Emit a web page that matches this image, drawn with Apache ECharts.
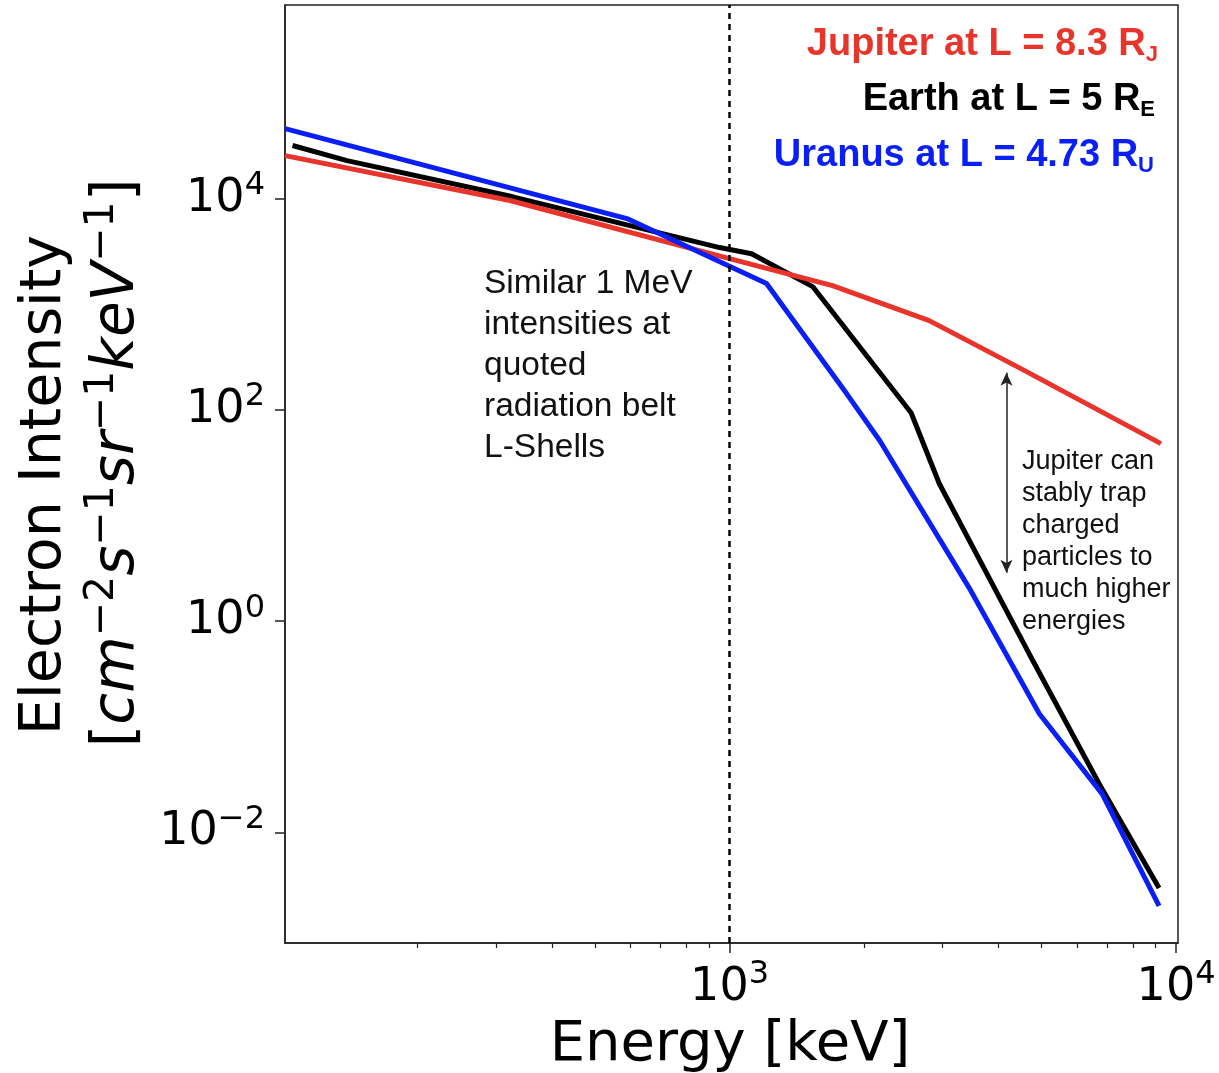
<!DOCTYPE html>
<html>
<head>
<meta charset="utf-8">
<script src="https://cdn.jsdelivr.net/npm/echarts@6/dist/echarts.min.js"></script>
<style>
html, body { margin: 0; padding: 0; background: #fff; }
#container { width: 1219px; height: 1073px; }
</style>
</head>
<body>
<div id="container"></div>
<script>
// energy in keV, intensity in cm^-2 s^-1 sr^-1 keV^-1
var jupiterEnergy = [101, 322, 1000, 1700, 2800, 4460, 9250];
var jupiterFlux = [25500, 9600, 2700, 1500, 700, 250, 48];
var earthEnergy = [105, 139, 327, 950, 1120, 1535, 2550, 2950, 4690, 6730, 9160];
var earthFlux = [31800, 22900, 10400, 3440, 3010, 1470, 94, 20, 0.49, 0.0288, 0.00299];
var uranusEnergy = [101, 589, 1210, 1830, 2170, 3440, 4940, 6830, 9160];
var uranusFlux = [46000, 6470, 1570, 142, 51, 2.07, 0.133, 0.0232, 0.00202];

var xMajorTicks = [1000, 10000];
var xMinorTicks = [200, 300, 400, 500, 600, 700, 800, 900, 2000, 3000, 4000, 5000, 6000, 7000, 8000, 9000];
var yMajorTicks = [0.01, 1, 100, 10000];
var xRange = [101, 10100];
var yRange = [0.0009, 680000];

var markerEnergy = 1000;          // dotted 1 MeV line
var arrowEnergy = 4170;           // double arrow
var arrowFlux = [225, 2.87];

var lg = Math.log10;

function pairs(xs, ys) {
	return xs.map(function (x, i) { return [lg(x), lg(ys[i])]; });
}

function powLabel(v) {
	var e = Math.round(v);
	return '{b|10}{s|' + (e < 0 ? '\u2212' + (-e) : e) + '}';
}

var tickRich = {
	b: { fontFamily: 'DejaVu Sans', fontSize: 46, color: '#000', lineHeight: 58 },
	s: { fontFamily: 'DejaVu Sans', fontSize: 32, color: '#000', lineHeight: 34, verticalAlign: 'top' }
};

var dom = document.getElementById('container');
var myChart = echarts.init(dom);

var option = {
	animation: false,
	backgroundColor: '#fff',
	grid: {
		left: 285, right: 41, top: 5, bottom: 130,
		show: true, borderColor: '#222', borderWidth: 1.5
	},
	xAxis: [{
		type: 'value',
		min: lg(xRange[0]), max: lg(xRange[1]),
		splitLine: { show: false },
		axisLine: { show: true, onZero: false, lineStyle: { color: '#222', width: 1.5 } },
		axisTick: { show: true, length: 10, customValues: xMajorTicks.map(lg), lineStyle: { color: '#222', width: 1.5 } },
		axisLabel: { customValues: xMajorTicks.map(lg), formatter: powLabel, rich: tickRich, margin: 16 }
	}, {
		type: 'value',
		position: 'bottom',
		min: lg(xRange[0]), max: lg(xRange[1]),
		splitLine: { show: false },
		axisLine: { show: false, onZero: false },
		axisTick: { show: true, length: 5, customValues: xMinorTicks.map(lg), lineStyle: { color: '#222', width: 1.2 } },
		axisLabel: { show: false }
	}],
	yAxis: {
		type: 'value',
		min: lg(yRange[0]), max: lg(yRange[1]),
		splitLine: { show: false },
		axisLine: { show: true, onZero: false, lineStyle: { color: '#222', width: 1.5 } },
		axisTick: { show: true, length: 10, customValues: yMajorTicks.map(lg), lineStyle: { color: '#222', width: 1.5 } },
		axisLabel: { customValues: yMajorTicks.map(lg), formatter: powLabel, rich: tickRich, margin: 20 }
	},
	series: [{
		name: 'Earth',
		type: 'line',
		showSymbol: false,
		data: pairs(earthEnergy, earthFlux),
		lineStyle: { color: '#000', width: 5 },
		z: 2,
		markLine: {
			silent: true,
			symbol: 'none',
			label: { show: false },
			lineStyle: { color: '#000', width: 2.5, type: [6, 5] },
			data: [{ xAxis: lg(markerEnergy) }]
		}
	}, {
		name: 'Jupiter',
		type: 'line',
		showSymbol: false,
		data: pairs(jupiterEnergy, jupiterFlux),
		lineStyle: { color: '#e8352b', width: 5 },
		z: 3,
		markLine: {
			silent: true,
			symbol: ['arrow', 'arrow'],
			symbolSize: [9, 13],
			label: { show: false },
			lineStyle: { color: '#222', width: 1.5, type: 'solid' },
			data: [[{ coord: [lg(arrowEnergy), lg(arrowFlux[0])] }, { coord: [lg(arrowEnergy), lg(arrowFlux[1])] }]]
		}
	}, {
		name: 'Uranus',
		type: 'line',
		showSymbol: false,
		data: pairs(uranusEnergy, uranusFlux),
		lineStyle: { color: '#0a1ff5', width: 5 },
		z: 4
	}],
	graphic: [{
		type: 'text', x: 45, y: 485, rotation: Math.PI / 2,
		style: { text: 'Electron Intensity', fontFamily: 'DejaVu Sans', fontSize: 57, fill: '#000', align: 'center', verticalAlign: 'middle' }
	}, {
		type: 'text', x: 118, y: 463, rotation: Math.PI / 2,
		style: {
			text: '{t|[}{i|cm}{u|\u22122}{i|s}{u|\u22121}{i|sr}{u|\u22121}{i|keV}{u|\u22121}{t|]}',
			align: 'center', verticalAlign: 'middle',
			rich: {
				t: { fontFamily: 'DejaVu Sans', fontSize: 58, fill: '#000', lineHeight: 72 },
				i: { fontFamily: 'DejaVu Sans', fontStyle: 'italic', fontSize: 58, fill: '#000', lineHeight: 72 },
				u: { fontFamily: 'DejaVu Sans', fontSize: 41, fill: '#000', lineHeight: 44, verticalAlign: 'top' }
			}
		}
	}, {
		type: 'text', x: 730, y: 1045,
		style: { text: 'Energy [keV]', fontFamily: 'DejaVu Sans', fontSize: 56, fill: '#000', align: 'center', verticalAlign: 'middle' }
	}, {
		type: 'text', x: 1158, y: 45,
		style: {
			text: '{a|Jupiter at L = 8.3 R}{s|J}', align: 'right', verticalAlign: 'middle',
			rich: {
				a: { fontFamily: 'Liberation Sans', fontWeight: 'bold', fontSize: 38, fill: '#e8352b', lineHeight: 42 },
				s: { fontFamily: 'Liberation Sans', fontWeight: 'bold', fontSize: 22, fill: '#e8352b', lineHeight: 27, verticalAlign: 'bottom' }
			}
		}
	}, {
		type: 'text', x: 1155, y: 100,
		style: {
			text: '{a|Earth at L = 5 R}{s|E}', align: 'right', verticalAlign: 'middle',
			rich: {
				a: { fontFamily: 'Liberation Sans', fontWeight: 'bold', fontSize: 38, fill: '#000', lineHeight: 42 },
				s: { fontFamily: 'Liberation Sans', fontWeight: 'bold', fontSize: 22, fill: '#000', lineHeight: 27, verticalAlign: 'bottom' }
			}
		}
	}, {
		type: 'text', x: 1154, y: 156,
		style: {
			text: '{a|Uranus at L = 4.73 R}{s|U}', align: 'right', verticalAlign: 'middle',
			rich: {
				a: { fontFamily: 'Liberation Sans', fontWeight: 'bold', fontSize: 38, fill: '#0a1ff5', lineHeight: 42 },
				s: { fontFamily: 'Liberation Sans', fontWeight: 'bold', fontSize: 22, fill: '#0a1ff5', lineHeight: 27, verticalAlign: 'bottom' }
			}
		}
	}, {
		type: 'text', x: 484, y: 263,
		style: {
			text: 'Similar 1 MeV\nintensities at\nquoted\nradiation belt\nL-Shells',
			fontFamily: 'Liberation Sans', fontSize: 33.5, lineHeight: 41, fill: '#111', align: 'left', verticalAlign: 'top'
		}
	}, {
		type: 'text', x: 1022, y: 446,
		style: {
			text: 'Jupiter can\nstably trap\ncharged\nparticles to\nmuch higher\nenergies',
			fontFamily: 'Liberation Sans', fontSize: 27, lineHeight: 32, fill: '#111', align: 'left', verticalAlign: 'top'
		}
	}]
};

if (option && typeof option === 'object') {
	myChart.setOption(option, true);
}
</script>
</body>
</html>
